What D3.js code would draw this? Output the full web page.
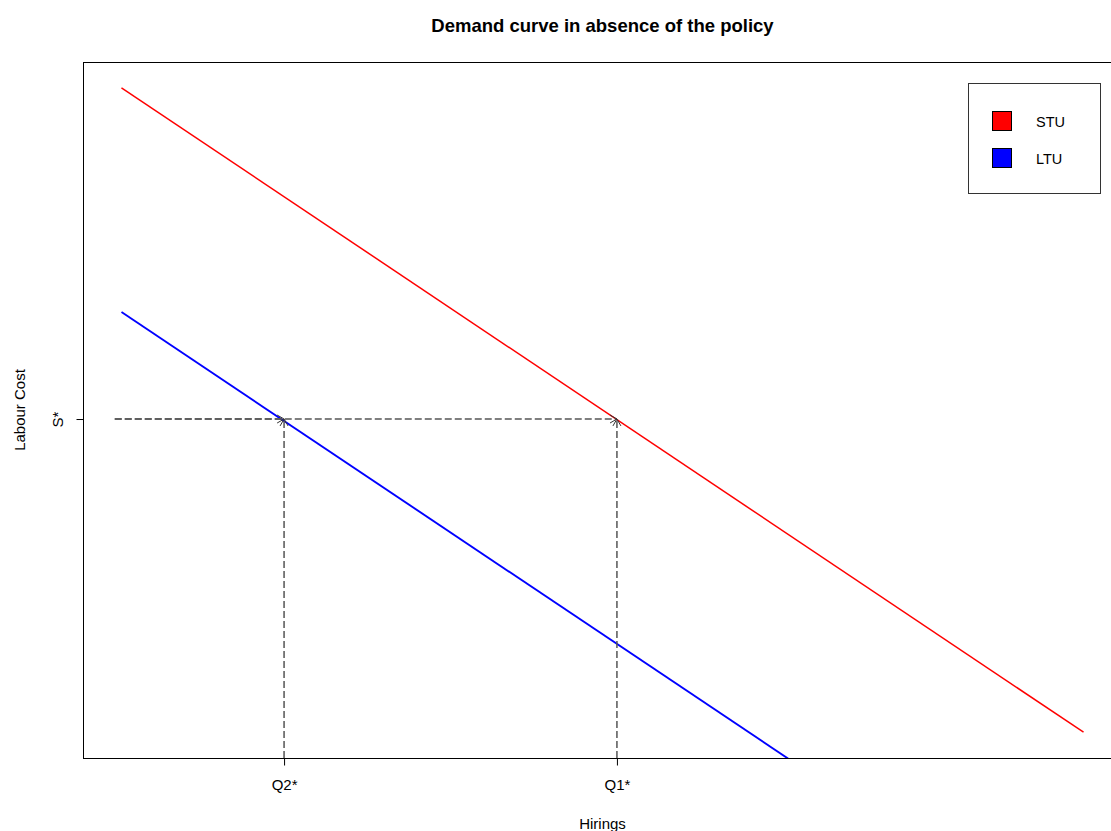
<!DOCTYPE html>
<html>
<head>
<meta charset="utf-8">
<script src="https://cdn.jsdelivr.net/npm/d3@7"></script>
<style>
  html, body { margin: 0; padding: 0; background: #fff; }
  svg { display: block; font-family: "Liberation Sans", Arial, sans-serif; }
</style>
</head>
<body>
<svg id="chart" width="1111" height="831"></svg>
<script>
// ---- data ----
const xValues = [0, 10];          // hirings (quantity) range
const stuValues = [10, 0];        // STU demand curve
const ltuValues = [6.52, -3.48];  // LTU demand curve
const seriesNames = ["STU", "LTU"];
const seriesColors = ["#ff0000", "#0000ff"];
const sStar = 4.86;               // equilibrium labour cost
const q1Star = 5.15;              // STU equilibrium hirings
const q2Star = 1.69;              // LTU equilibrium hirings
const xTickValues = [q2Star, q1Star];
const xTickLabels = ["Q2*", "Q1*"];
const yTickValues = [sStar];
const yTickLabels = ["S*"];
const title = "Demand curve in absence of the policy";
const xTitle = "Hirings";
const yTitle = "Labour Cost";

// ---- layout ----
const svg = d3.select("#chart");
const plot = { left: 83, top: 62, right: 1122, bottom: 758 };

const x = d3.scaleLinear().domain([-0.4, 10.4]).range([plot.left, plot.right]);
const yPad = 0.04 * (stuValues[0] - stuValues[1]);
const y = d3.scaleLinear().domain([stuValues[1] - yPad, stuValues[0] + yPad]).range([plot.bottom, plot.top]);

svg.append("defs").append("clipPath").attr("id", "clip")
  .append("rect").attr("x", plot.left).attr("y", plot.top)
  .attr("width", plot.right - plot.left).attr("height", plot.bottom - plot.top);

// lines
const line = d3.line().x(d => x(d[0])).y(d => y(d[1]));
const series = [stuValues, ltuValues];
const widths = [1.5, 1.9];
const g = svg.append("g").attr("clip-path", "url(#clip)");
series.forEach((vals, i) => {
  g.append("path")
    .datum(xValues.map((xv, j) => [xv, vals[j]]))
    .attr("d", line)
    .attr("fill", "none")
    .attr("stroke", seriesColors[i])
    .attr("stroke-width", widths[i]);
});

// dashed guide arrows
const dashColor = "#555";
function arrow(x0, y0, x1, y1) {
  g.append("line")
    .attr("x1", x0).attr("y1", y0).attr("x2", x1).attr("y2", y1)
    .attr("stroke", dashColor).attr("stroke-width", 1.5)
    .attr("stroke-dasharray", "7,3");
  const ang = Math.atan2(y1 - y0, x1 - x0);
  const len = 8, spread = Math.PI / 6;
  [ang + Math.PI - spread, ang + Math.PI + spread].forEach(a => {
    g.append("line")
      .attr("x1", x1).attr("y1", y1)
      .attr("x2", x1 + len * Math.cos(a)).attr("y2", y1 + len * Math.sin(a))
      .attr("stroke", "#333").attr("stroke-width", 1);
  });
}
const xStart = x(-0.07);
arrow(xStart, y(sStar), x(q1Star), y(sStar));
arrow(xStart, y(sStar), x(q2Star), y(sStar));
arrow(x(q1Star), plot.bottom, x(q1Star), y(sStar));
arrow(x(q2Star), plot.bottom, x(q2Star), y(sStar));

// plot box
svg.append("rect")
  .attr("x", plot.left + 0.5).attr("y", plot.top + 0.5)
  .attr("width", plot.right - plot.left).attr("height", plot.bottom - plot.top)
  .attr("fill", "none").attr("stroke", "#000").attr("stroke-width", 1);

// x axis
const xAxis = d3.axisBottom(x).tickValues(xTickValues)
  .tickFormat((d, i) => xTickLabels[i]).tickSize(7).tickPadding(14);
const gx = svg.append("g").attr("transform", `translate(0,${plot.bottom + 0.5})`).call(xAxis);
gx.select(".domain").remove();
gx.selectAll("text").attr("font-size", 15).attr("fill", "#000")
  .attr("font-family", "Liberation Sans, Arial, sans-serif");

// y axis
const yAxis = d3.axisLeft(y).tickValues(yTickValues)
  .tickFormat((d, i) => yTickLabels[i]).tickSize(7).tickPadding(14);
const gy = svg.append("g").attr("transform", `translate(${plot.left + 0.5},0)`).call(yAxis);
gy.select(".domain").remove();
gy.selectAll("text")
  .attr("font-size", 15).attr("fill", "#000")
  .attr("font-family", "Liberation Sans, Arial, sans-serif")
  .attr("text-anchor", "middle")
  .attr("x", null)
  .attr("transform", function (d) { return `translate(-26,0) rotate(-90)`; })
  .attr("dy", "0.35em");

// titles
svg.append("text").attr("x", (plot.left + plot.right) / 2).attr("y", 32)
  .attr("text-anchor", "middle").attr("font-size", 18.5).attr("font-weight", "bold")
  .text(title);
svg.append("text").attr("x", (plot.left + plot.right) / 2).attr("y", 829)
  .attr("text-anchor", "middle").attr("font-size", 15).text(xTitle);
svg.append("text")
  .attr("transform", `translate(25,${(plot.top + plot.bottom) / 2}) rotate(-90)`)
  .attr("text-anchor", "middle").attr("font-size", 15).text(yTitle);

// legend
const lg = svg.append("g");
lg.append("rect").attr("x", 968.5).attr("y", 83.5).attr("width", 132).attr("height", 110)
  .attr("fill", "#fff").attr("stroke", "#333").attr("stroke-width", 1);
seriesNames.forEach((name, i) => {
  const yy = 111 + i * 37;
  lg.append("rect").attr("x", 992.5).attr("y", yy + 0.5).attr("width", 19).attr("height", 19)
    .attr("fill", seriesColors[i]).attr("stroke", "#000").attr("stroke-width", 1);
  lg.append("text").attr("x", 1036).attr("y", yy + 11).attr("dy", "0.35em")
    .attr("font-size", 14.5).text(name);
});
</script>
</body>
</html>
